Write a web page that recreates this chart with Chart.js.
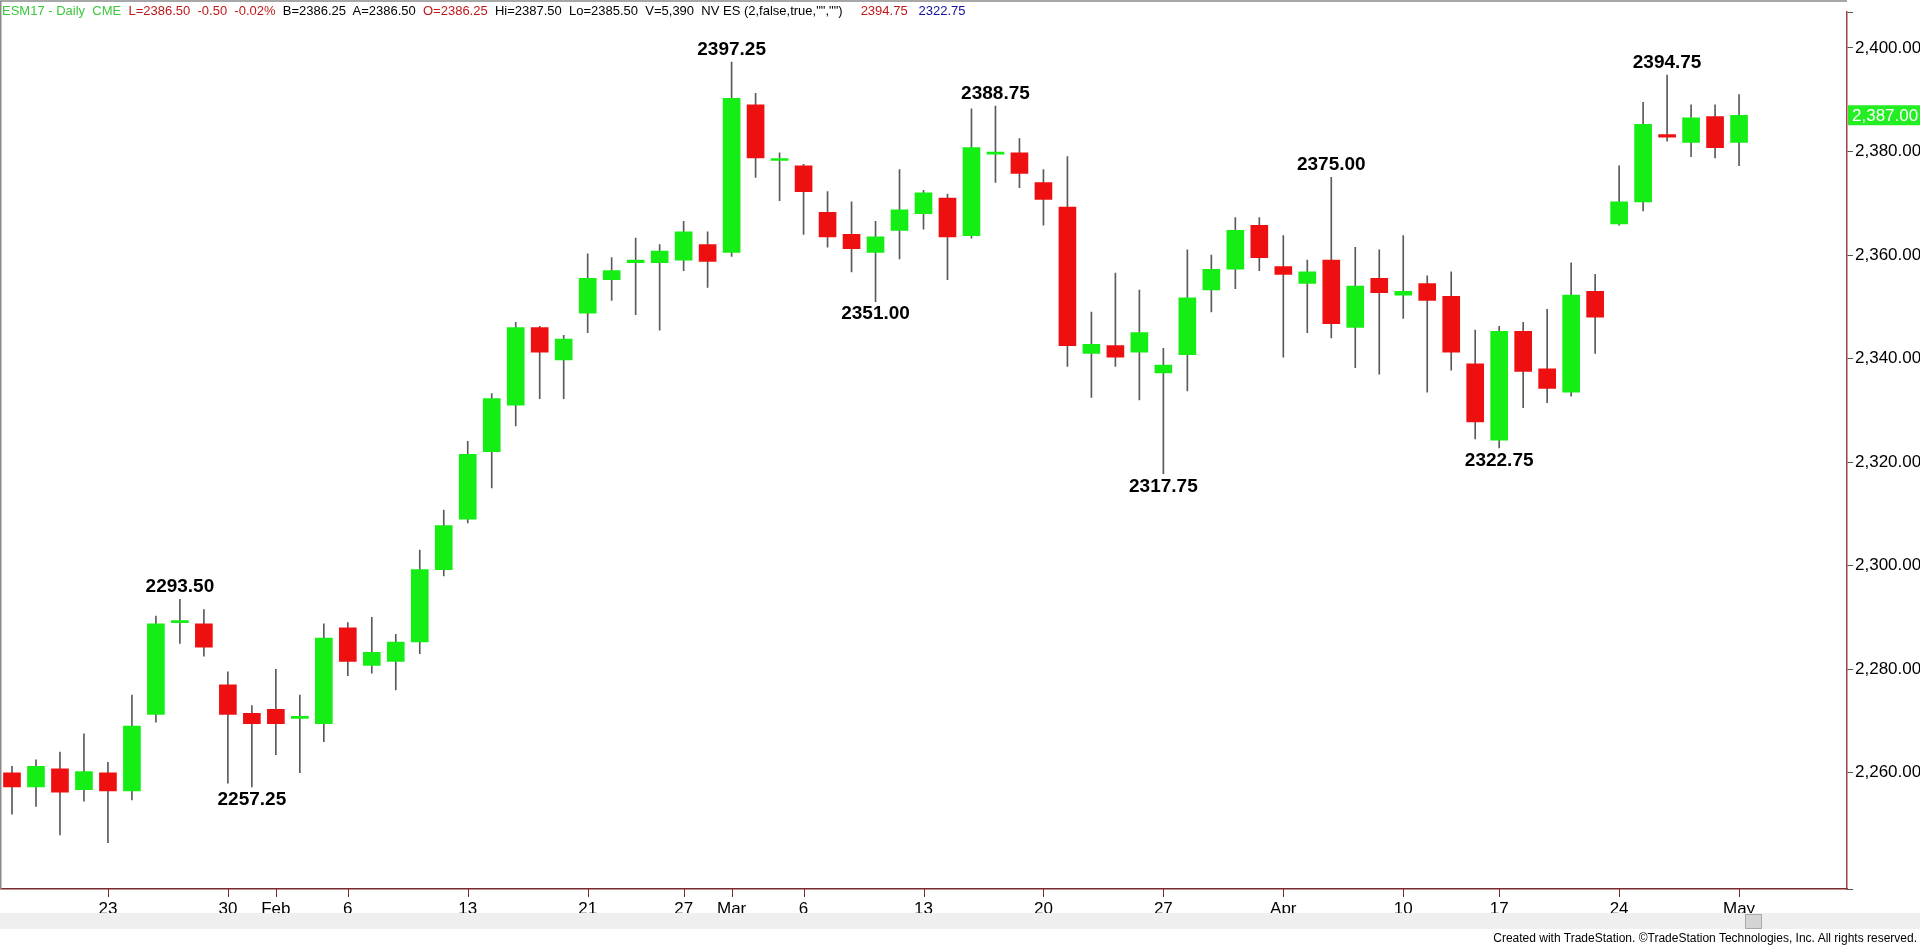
<!DOCTYPE html>
<html>
<head>
<meta charset="utf-8">
<script src="https://cdn.jsdelivr.net/npm/chart.js@4.4.1/dist/chart.umd.min.js"></script>
<style>
  html, body { margin: 0; padding: 0; background: #fff; overflow: hidden; }
  #wrap { position: absolute; left: 0; top: 0; width: 1920px; height: 945px; }
  #head { position: absolute; left: 2px; top: 3px; font: 13px "Liberation Sans", Arial, sans-serif; white-space: pre; color: #000; z-index: 2; }
  #scroll { position: absolute; left: 0; top: 913px; width: 1920px; height: 16px; background: #efefef; }
  #thumb { position: absolute; left: 1745px; top: 1px; width: 15px; height: 13px; background: #d4d4d4; border: 1px solid #a8a8a8; }
  #foot { position: absolute; right: 3px; top: 931px; font: 12px "Liberation Sans", Arial, sans-serif; color: #000; }
  .g { color: #3cc83c; } .r { color: #c01818; } .b { color: #1010a0; }
</style>
</head>
<body>
<div id="wrap">
  <div id="head"><span class="g">ESM17 - Daily  CME</span>  <span class="r">L=2386.50  -0.50  -0.02%</span>  B=2386.25  A=2386.50  <span class="r">O=2386.25</span>  Hi=2387.50  Lo=2385.50  V=5,390  NV ES (2,false,true,"","")     <span class="r">2394.75</span>   <span class="b">2322.75</span></div>
  <canvas id="c"></canvas>
  <div id="scroll"><div id="thumb"></div></div>
  <div id="foot">Created with TradeStation. ©TradeStation Technologies, Inc. All rights reserved.</div>
</div>
<script>
// Daily ES futures, Jan 17 - May 1 2017
const days = ['1/17','1/18','1/19','1/20','1/23','1/24','1/25','1/26','1/27','1/30','1/31',
  '2/1','2/2','2/3','2/6','2/7','2/8','2/9','2/10','2/13','2/14','2/15','2/16','2/17','2/21','2/22','2/23','2/24','2/27','2/28',
  '3/1','3/2','3/3','3/6','3/7','3/8','3/9','3/10','3/13','3/14','3/15','3/16','3/17','3/20','3/21','3/22','3/23','3/24','3/27','3/28','3/29','3/30','3/31',
  '4/3','4/4','4/5','4/6','4/7','4/10','4/11','4/12','4/13','4/17','4/18','4/19','4/20','4/21','4/24','4/25','4/26','4/27','4/28',
  '5/1','','','',''];
const open  = [2260,2257.25,2260.75,2256.75,2260,2256.5,2271.25,2289,2288.75,2277,2271.5,
  2272.25,2270.5,2269.5,2288,2280.75,2281.5,2285.25,2299.25,2309,2322,2331,2346,2339.75,2348.75,2355.25,2358.5,2358.5,2359,2362,
  2360.5,2389,2378.25,2377.25,2368.25,2364,2360.5,2364.75,2368,2371,2363.75,2379.5,2379.75,2374,2369.25,2341,2342.5,2341.25,2337.25,2340.75,2353.25,2357.25,2365.75,
  2357.75,2354.5,2359,2346,2355.5,2352.25,2354.5,2352,2339,2324.25,2345.25,2338,2333.5,2353,2366,2370.25,2383.25,2381.75,2386.75,
  2381.75];
const close = [2257.25,2261.25,2256.25,2260.25,2256.5,2269,2288.75,2289,2284.25,2271.25,2269.5,
  2269.5,2270.5,2286,2281.5,2283.25,2285.25,2299.25,2307.75,2321.5,2332.25,2346,2341.25,2343.75,2355.5,2357,2359,2360.75,2364.5,2358.75,
  2390.25,2378.75,2378.25,2372.25,2363.5,2361.25,2363.5,2368.75,2372,2363.5,2380.75,2379.5,2375.75,2370.75,2342.5,2342.75,2340.25,2345,2338.75,2351.75,2357.25,2364.75,2359.5,
  2356.25,2356.75,2346.75,2354,2352.75,2353,2351.25,2341.25,2327.75,2345.25,2337.5,2334.25,2352.25,2348,2370.25,2385.25,2382.75,2386.5,2380.75,
  2387];
const high  = [2261.25,2262.5,2264,2267.5,2262,2275,2290.25,2293.5,2291.5,2279.5,2273,
  2280,2275,2288.75,2289,2290,2286.75,2303,2310.75,2324,2333.25,2347,2346.25,2344.5,2360.25,2359.5,2363.25,2362,2366.5,2364.5,
  2397.25,2391.25,2379.75,2377.5,2372.25,2370.25,2366.5,2376.5,2372.5,2371.75,2388.25,2388.75,2382.5,2376.5,2379,2349,2356.5,2353.25,2342,2361,2360,2367.25,2367.25,
  2363.75,2359,2375,2361.5,2361,2363.75,2356,2356.75,2345.5,2346.25,2347,2349.5,2358.5,2356.25,2377.25,2389.5,2394.75,2389,2389,
  2391];
const low   = [2252,2253.5,2248,2254.5,2246.5,2254.75,2269.75,2285,2282.5,2258,2257.25,
  2263.5,2260,2266,2278.75,2279.25,2276,2283,2298,2308.25,2315,2327,2332.25,2332.25,2345,2351.25,2348.5,2345.5,2357,2353.75,
  2359.75,2375,2370.5,2364,2361.5,2356.75,2351,2359.25,2365,2355.25,2363.25,2374,2373,2365.75,2338.5,2332.5,2338.5,2332,2317.75,2333.75,2349,2353.5,2357,
  2340.25,2345,2344,2338.25,2337,2347.75,2333.5,2337.75,2324.5,2322.75,2330.5,2331.5,2332.75,2341,2365.75,2368.5,2382,2379,2378.75,
  2377.25];
const tickIdx  = [4,9,11,14,19,24,28,30,33,38,43,48,53,58,62,67,72];
const tickText = ['23','30','Feb','6','13','21','27','Mar','6','13','20','27','Apr','10','17','24','May'];
const markIdx  = [7,10,30,36,41,48,55,62,69];
const markSide = ['high','low','high','low','high','low','high','low','high'];
const lastPrice = 2387;

const bodies = days.map((d, i) => i < open.length ? [open[i], close[i]] : null);
const wicks  = days.map((d, i) => i < open.length ? [low[i], high[i]] : null);
const bodyColor = days.map((d, i) => close[i] >= open[i] ? '#14ee14' : '#ee1010');
const fmt = v => v.toLocaleString('en-US', { minimumFractionDigits: 2, maximumFractionDigits: 2 });

const overlay = {
  id: 'overlay',
  afterDraw(chart) {
    const { ctx, chartArea: a, scales: { x, y } } = chart;
    ctx.save();
    ctx.strokeStyle = '#8a8a8a';
    ctx.lineWidth = 1.5;
    ctx.beginPath();
    ctx.moveTo(a.right, 1); ctx.lineTo(0.75, 1);
    ctx.lineTo(0.75, a.bottom);
    ctx.stroke();
    // x tick marks pointing up
    ctx.strokeStyle = '#7a2a2a';
    ctx.lineWidth = 1;
    ctx.beginPath();
    tickIdx.forEach(i => {
      const px = Math.round(x.getPixelForValue(i)) + 0.5;
      ctx.moveTo(px, a.bottom); ctx.lineTo(px, a.bottom + 8);
    });
    ctx.stroke();
    // high / low marks
    ctx.font = 'bold 19px "Liberation Sans", Arial, sans-serif';
    ctx.fillStyle = '#000';
    ctx.textAlign = 'center';
    markIdx.forEach((i, k) => {
      const px = x.getPixelForValue(i);
      if (markSide[k] === 'high') {
        ctx.textBaseline = 'bottom';
        ctx.fillText(high[i].toFixed(2), px, y.getPixelForValue(high[i]) - 3);
      } else {
        ctx.textBaseline = 'top';
        ctx.fillText(low[i].toFixed(2), px, y.getPixelForValue(low[i]) + 3);
      }
    });
    // last price box
    const py = y.getPixelForValue(lastPrice);
    ctx.fillStyle = '#22ee22';
    ctx.fillRect(a.right + 1, py - 10, 73, 20);
    ctx.fillStyle = '#fff';
    ctx.font = '17px "Liberation Sans", Arial, sans-serif';
    ctx.textAlign = 'left';
    ctx.textBaseline = 'middle';
    ctx.fillText(fmt(lastPrice), a.right + 5, py + 1);
    ctx.restore();
  }
};

new Chart(document.getElementById('c'), {
  type: 'bar',
  data: {
    labels: days,
    datasets: [
      { data: bodies, backgroundColor: bodyColor, barThickness: 17, minBarLength: 2, grouped: false, order: 1 },
      { data: wicks, backgroundColor: '#5a5a5a', barThickness: 1, grouped: false, order: 2 }
    ]
  },
  options: {
    responsive: true,
    maintainAspectRatio: false,
    animation: false,
    layout: { padding: { top: 1, bottom: 32, left: 0, right: 0 } },
    plugins: { legend: { display: false }, tooltip: { enabled: false } },
    scales: {
      x: {
        grid: { display: false },
        border: { color: '#7a2a2a', width: 1.5 },
        ticks: {
          autoSkip: false, maxRotation: 0, color: '#000', padding: 2,
          font: { size: 17, family: '"Liberation Sans", Arial, sans-serif' },
          callback: (v, i) => { const k = tickIdx.indexOf(i); return k >= 0 ? tickText[k] : ''; }
        },
        afterFit: s => { s.height = 24; }
      },
      y: {
        position: 'right',
        min: 2237.55, max: 2406.9,
        grid: { drawOnChartArea: false, tickLength: 6, color: '#555' },
        border: { color: '#a04040', width: 1.5 },
        ticks: {
          stepSize: 20, color: '#000', padding: 2,
          font: { size: 17, family: '"Liberation Sans", Arial, sans-serif' },
          callback: v => v % 20 === 0 && v >= 2240 ? fmt(v) : ''
        },
        afterFit: s => { s.width = 73; }
      }
    }
  },
  plugins: [overlay]
});
</script>
</body>
</html>
